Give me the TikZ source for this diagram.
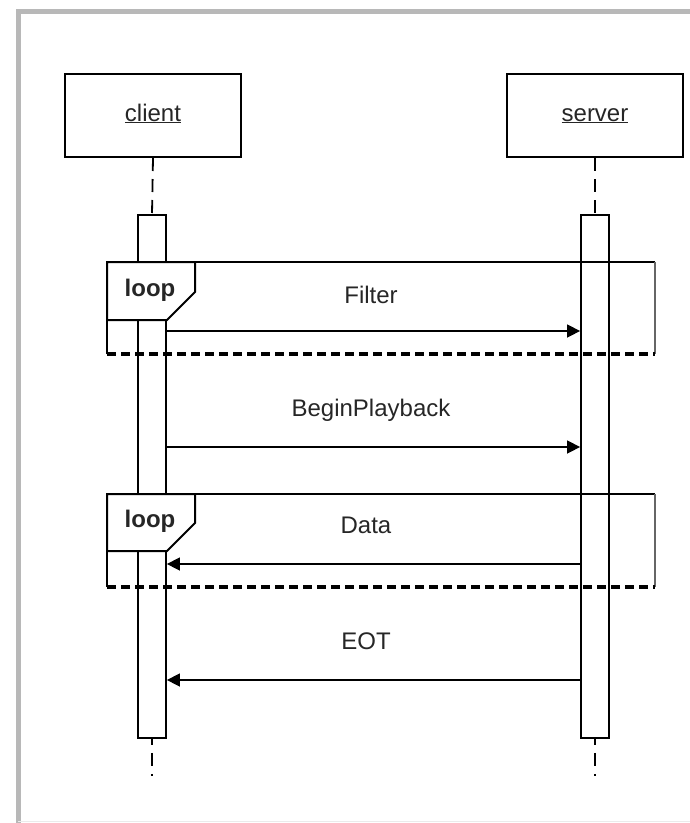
\documentclass[tikz,border=0pt]{standalone}
\usepackage{fontspec}
\setmainfont{Liberation Sans}
\usetikzlibrary{arrows.meta}
\begin{document}
\begin{tikzpicture}[x=1pt,y=-1pt,
  every node/.style={font=\fontsize{24}{28}\selectfont, text=black!85},
  participant/.style={draw, line width=2pt, minimum width=176pt, minimum height=83pt, inner sep=0pt, text height=17pt, text depth=6pt},
  activation/.style={draw, line width=1.8pt, minimum width=28pt, minimum height=523pt, inner sep=0pt, fill=white},
  lifeline/.style={line width=1.8pt, dash pattern=on 13pt off 8pt},
  msg/.style={line width=1.5pt, -{Triangle[length=13pt,width=13pt]}},
  frameline/.style={line width=2pt},
  framebottom/.style={line width=3.5pt, dash pattern=on 9pt off 5pt},
  label/.style={inner sep=0pt, text height=17pt, text depth=6pt}
]
\useasboundingbox (0,0) rectangle (689,823);
% outer grey frame
\draw[black!28, line width=5pt] (18,830) -- (18,11) -- (700,11);
\draw[black!8, line width=1pt] (18,821.5) -- (700,821.5);

% participants
\node[participant] (client) at (153,115.5) {\underline{client}};
\node[participant] (server) at (595,115.5) {\underline{server}};

% activation bars
\node[activation] (cact) at (152,476.5) {};
\node[activation] (sact) at (595,476.5) {};

% lifelines
\coordinate (cend) at (152,776);
\coordinate (send) at (595,776);
\draw[lifeline] (client.south) -- (cact.north);
\draw[lifeline] (server.south) -- (sact.north);
\draw[lifeline, dash phase=-14pt] (cact.south) -- (cend);
\draw[lifeline, dash phase=-14pt] (sact.south) -- (send);

% loop frame 1
\coordinate (l1tl) at (107,262);
\coordinate (l1tr) at (655,262);
\coordinate (l1br) at (655,354);
\coordinate (l1bl) at (107,354);
\draw[frameline] (l1bl) -- (l1tl) -- (l1tr);
\draw[frameline, black!60] (l1tr) -- (l1br);
\draw[framebottom] (l1bl) -- (l1br);
\draw[frameline, fill=white] (107,262) -- (195,262) -- (195,292) -- (167,320) -- (107,320) -- cycle;
\node[label, font=\fontsize{24}{28}\selectfont\bfseries] (loop1) at (150,291) {loop};

% loop frame 2
\coordinate (l2tl) at (107,494);
\coordinate (l2tr) at (655,494);
\coordinate (l2br) at (655,587);
\coordinate (l2bl) at (107,587);
\draw[frameline] (l2bl) -- (l2tl) -- (l2tr);
\draw[frameline, black!60] (l2tr) -- (l2br);
\draw[framebottom] (l2bl) -- (l2br);
\draw[frameline, fill=white] (107,494) -- (195,494) -- (195,523) -- (167,551) -- (107,551) -- cycle;
\node[label, font=\fontsize{24}{28}\selectfont\bfseries] (loop2) at (150,522) {loop};

% messages
\node[label] (tfilter) at (371,298) {Filter};
\draw[msg] (cact.east |- 0,331) -- (sact.west |- 0,331);

\node[label] (tbegin) at (371,411) {BeginPlayback};
\draw[msg] (cact.east |- 0,447) -- (sact.west |- 0,447);

\node[label] (tdata) at (366,528) {Data};
\draw[msg] (sact.west |- 0,564) -- (cact.east |- 0,564);

\node[label] (teot) at (366,644) {EOT};
\draw[msg] (sact.west |- 0,680) -- (cact.east |- 0,680);
\end{tikzpicture}
\end{document}
